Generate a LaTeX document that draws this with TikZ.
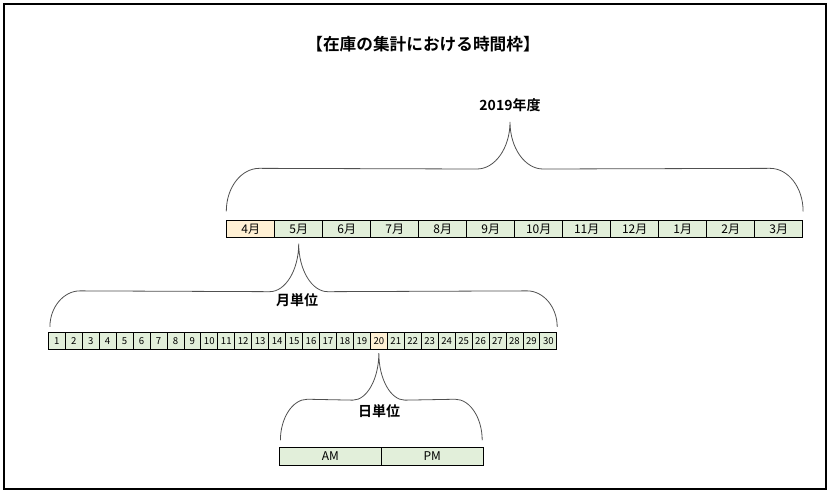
\documentclass[tikz,border=0pt]{standalone}
\usepackage{fontspec}
\setmainfont{Noto Sans CJK JP}[BoldFont={Noto Sans CJK JP Bold}]
\usepackage{xcolor}
\usetikzlibrary{calc}
\definecolor{cellgreen}{HTML}{E2EFDA}
\definecolor{cellorange}{HTML}{FFF0D4}
\definecolor{bracegray}{HTML}{505050}

\begin{document}
\begin{tikzpicture}[x=0.75pt,y=-0.75pt,
  cell/.style={draw=black,line width=0.6pt,inner sep=0pt},
  monthcell/.style={cell,minimum width=36pt,minimum height=12.4pt,font=\fontsize{9}{9}\selectfont},
  daycell/.style={cell,minimum width=12.7125pt,minimum height=13.1pt,font=\fontsize{7.2}{7.2}\selectfont},
  halfcell/.style={cell,fill=cellgreen,minimum width=76.5pt,minimum height=13pt,font=\fontsize{9}{9}\selectfont},
  label/.style={font=\fontsize{10.5}{10.5}\selectfont\bfseries},
  brace/.style={draw=bracegray,line width=0.6pt}]
  \useasboundingbox (0,0) rectangle (831,494);
  \draw[line width=1pt] (4,4) rectangle (826,489);
  \node[font=\fontsize{12.5}{12.5}\selectfont\bfseries] (title) at (423,44) {【在庫の集計における時間枠】};

  % fiscal year
  \foreach \m/\c [count=\i] in {4/cellorange,5/cellgreen,6/cellgreen,7/cellgreen,8/cellgreen,9/cellgreen,
      10/cellgreen,11/cellgreen,12/cellgreen,1/cellgreen,2/cellgreen,3/cellgreen}
    \node[monthcell,fill=\c] (m\i) at ({250.7+48*(\i-1)},229) {\m 月};
  \node[label] (year) at (510,105) {2019年度};
  \coordinate (ya) at ($(m1.north west)+(0,-9)$);
  \coordinate (yb) at ($(m12.north east)+(0,-9)$);
  \coordinate (yt) at (510,122);
  \draw[brace] (ya) .. controls +(0,-24) and +(-18,0) .. ++(33,-43) -- ($(yt)+(-33,47)$)
    .. controls +(18,0) and +(0,26) .. (yt)
    .. controls +(0,26) and +(-18,0) .. ++(33,47) -- ($(yb)+(-33,-43)$)
    .. controls +(18,0) and +(0,-24) .. (yb);

  % days of May
  \foreach \d in {1,...,30}{
    \ifnum\d=20 \def\c{cellorange}\else\def\c{cellgreen}\fi
    \node[daycell,fill=\c] (d\d) at ({48.3+16.95*(\d-0.5)},341) {\d};
  }
  \node[label] (month) at (297,300) {月単位};
  \coordinate (ma) at ($(d1.north west)+(2,-5)$);
  \coordinate (mb) at ($(d30.north east)+(0,-5)$);
  \coordinate (mt) at ($(m2.south)+(0,6)$);
  \draw[brace] (ma) .. controls +(0,-20) and +(-16,0) .. ++(30,-36) -- ($(mt)+(-29,48)$)
    .. controls +(16,0) and +(0,26) .. (mt)
    .. controls +(0,26) and +(-16,0) .. ++(29,48) -- ($(mb)+(-30,-36)$)
    .. controls +(16,0) and +(0,-20) .. (mb);

  % half days
  \node[halfcell] (am) at (330.3,456.3) {AM};
  \node[halfcell] (pm) at (432.3,456.3) {PM};
  \node[label] (day) at (379,411) {日単位};
  \coordinate (da) at ($(am.north west)+(1.5,-7)$);
  \coordinate (db) at ($(pm.north east)+(-1.5,-7)$);
  \coordinate (dt) at ($(d20.south)+(0,3)$);
  \draw[brace] (da) .. controls +(0,-22) and +(-15,0) .. ++(27,-41) -- ($(dt)+(-26,47)$)
    .. controls +(14,0) and +(0,26) .. (dt)
    .. controls +(0,26) and +(-14,0) .. ++(26,47) -- ($(db)+(-27,-41)$)
    .. controls +(15,0) and +(0,-22) .. (db);
\end{tikzpicture}
\end{document}
